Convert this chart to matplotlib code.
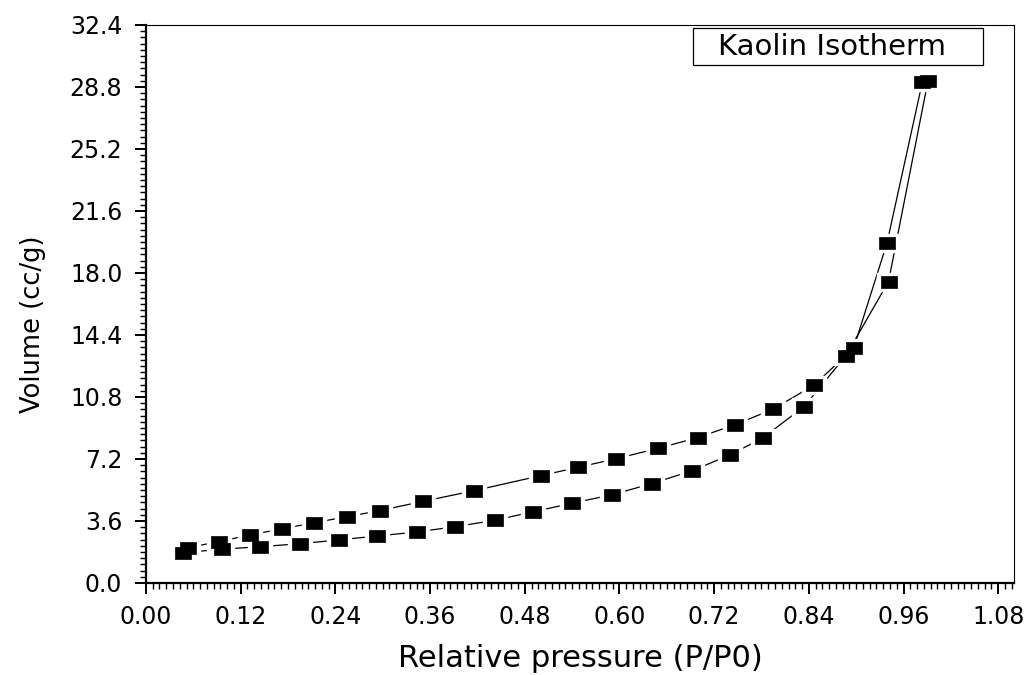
import numpy as np
import matplotlib
matplotlib.use("Agg")
import matplotlib.pyplot as plt
from matplotlib.ticker import MultipleLocator, AutoMinorLocator
from matplotlib.patches import Rectangle

# adsorption branch (lower)
ads_p = [0.047, 0.096, 0.145, 0.195, 0.244, 0.293, 0.343, 0.392, 0.442, 0.491,
         0.540, 0.591, 0.641, 0.692, 0.740, 0.782, 0.834, 0.887, 0.941, 0.991]
ads_v = [1.76, 1.96, 2.11, 2.28, 2.50, 2.73, 2.96, 3.27, 3.64, 4.14,
         4.63, 5.13, 5.77, 6.52, 7.43, 8.44, 10.24, 13.20, 17.50, 29.15]

# desorption branch (upper)
des_p = [0.984, 0.939, 0.897, 0.847, 0.795, 0.746, 0.699, 0.649, 0.596, 0.548,
         0.500, 0.416, 0.351, 0.296, 0.255, 0.213, 0.173, 0.132, 0.092, 0.053]
des_v = [29.11, 19.73, 13.66, 11.50, 10.10, 9.18, 8.44, 7.82, 7.22, 6.72,
         6.23, 5.36, 4.74, 4.20, 3.85, 3.50, 3.15, 2.79, 2.40, 2.05]

x_ticks = [0.00, 0.12, 0.24, 0.36, 0.48, 0.60, 0.72, 0.84, 0.96, 1.08]
y_ticks = [0.0, 3.6, 7.2, 10.8, 14.4, 18.0, 21.6, 25.2, 28.8, 32.4]

plt.rcParams["font.family"] = ["DejaVu Sans"]

# wide-ish rectangle marker like the Origin squares
rect = [(-0.625, -0.5), (0.625, -0.5), (0.625, 0.5), (-0.625, 0.5), (-0.625, -0.5)]


def main():
    fig = plt.figure(figsize=(10.33, 6.75), dpi=100)
    ax = fig.add_axes([0.1413, 0.1363, 0.8403, 0.8267])

    for p, v in [(ads_p, ads_v), (des_p, des_v)]:
        ax.plot(p, v, color="black", linewidth=0.9, zorder=1)
    # white halos leave a gap between line and symbol
    for p, v in [(ads_p, ads_v), (des_p, des_v)]:
        ax.plot(p, v, linestyle="none", marker=rect, markersize=17,
                markerfacecolor="white", markeredgecolor="white", zorder=2)
    for p, v in [(ads_p, ads_v), (des_p, des_v)]:
        ax.plot(p, v, linestyle="none", marker=rect, markersize=11.5,
                markerfacecolor="black", markeredgecolor="black",
                markeredgewidth=0.5, zorder=3)

    ax.set_xlim(0.0, 1.1)
    ax.set_ylim(0.0, 32.4)
    ax.set_xticks(x_ticks)
    ax.set_xticklabels(["%.2f" % t for t in x_ticks])
    ax.set_yticks(y_ticks)
    ax.set_yticklabels(["%.1f" % t for t in y_ticks])
    ax.xaxis.set_minor_locator(AutoMinorLocator(14))
    ax.yaxis.set_minor_locator(AutoMinorLocator(10))

    ax.tick_params(which="major", direction="out", length=8, width=1.4,
                   labelsize=17, top=False, right=False)
    ax.tick_params(axis="x", which="major", pad=8)
    ax.tick_params(axis="y", which="major", pad=9)
    ax.tick_params(which="minor", direction="out", length=4, width=1.0,
                   top=False, right=False)

    for side in ["left", "bottom"]:
        ax.spines[side].set_linewidth(1.6)
    for side in ["top", "right"]:
        ax.spines[side].set_linewidth(0.8)

    ax.set_xlabel("Relative pressure (P/P0)", fontsize=22)
    ax.xaxis.set_label_coords(0.5, -0.11)
    ax.set_ylabel("Volume (cc/g)", fontsize=18.5)
    ax.yaxis.set_label_coords(-0.115, 0.464)

    ax.add_patch(Rectangle((0.630, 0.928), 0.334, 0.0665, transform=ax.transAxes,
                           facecolor="white", edgecolor="black", linewidth=0.9,
                           zorder=5))
    ax.text(0.659, 0.961, "Kaolin Isotherm", transform=ax.transAxes,
            fontsize=21, va="center", ha="left", zorder=6)

    fig.savefig("out.png", dpi=100)
    plt.close(fig)


if __name__ == "__main__":
    main()
